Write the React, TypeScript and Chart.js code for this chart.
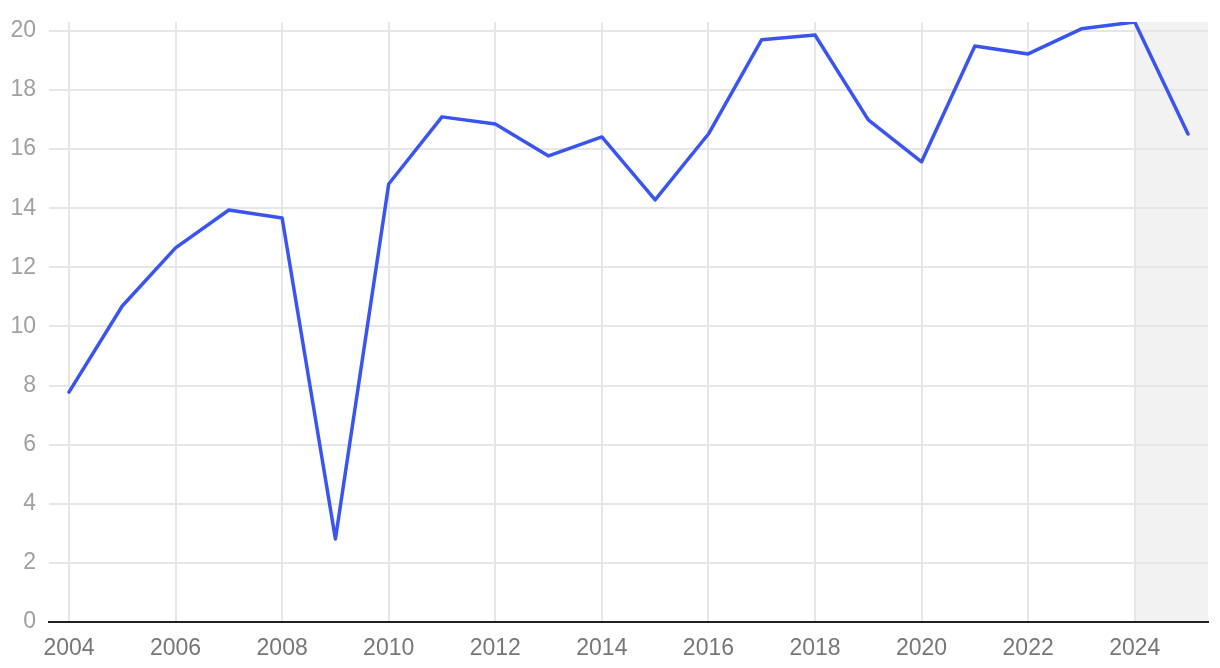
import React, { useEffect, useRef } from "react";
import { Chart, registerables } from "chart.js";

Chart.register(...registerables);

const years = [2004, 2005, 2006, 2007, 2008, 2009, 2010, 2011, 2012, 2013, 2014, 2015, 2016, 2017, 2018, 2019, 2020, 2021, 2022, 2023, 2024, 2025];
const values = [7.78, 10.69, 12.66, 13.94, 13.67, 2.81, 14.82, 17.09, 16.85, 15.77, 16.41, 14.28, 16.51, 19.7, 19.86, 16.99, 15.57, 19.49, 19.22, 20.07, 20.3, 16.51];
const xTickValues = [2004, 2006, 2008, 2010, 2012, 2014, 2016, 2018, 2020, 2022, 2024];
const yTickValues = [0, 2, 4, 6, 8, 10, 12, 14, 16, 18, 20];
const shadeStart = 2024;

const shadePlugin = {
  id: "shade",
  beforeDraw(chart: any) {
    const { ctx, chartArea, scales } = chart;
    const x0 = scales.x.getPixelForValue(shadeStart);
    ctx.save();
    ctx.fillStyle = "#f2f2f2";
    ctx.fillRect(x0, chartArea.top, chartArea.right - x0, chartArea.bottom - chartArea.top);
    ctx.restore();
  },
};

export default function App() {
  const ref = useRef<HTMLCanvasElement>(null);
  useEffect(() => {
    document.body.style.margin = "0";
    const chart = new Chart(ref.current as HTMLCanvasElement, {
      type: "line",
      data: {
        datasets: [
          {
            data: years.map((y, i) => ({ x: y, y: values[i] })),
            borderColor: "#3a54ef",
            borderWidth: 3.5,
            borderJoinStyle: "round",
            borderCapStyle: "round",
            pointRadius: 0,
            tension: 0,
            fill: false,
          },
        ],
      },
      options: {
        animation: false,
        responsive: false,
        layout: { padding: { top: 22, right: 12, left: 0, bottom: 0 } },
        plugins: { legend: { display: false }, tooltip: { enabled: false } },
        scales: {
          x: {
            type: "linear",
            min: 2003.625,
            max: 2025.375,
            afterBuildTicks: (s: any) => {
              s.ticks = xTickValues.map((v) => ({ value: v }));
            },
            afterFit: (s: any) => {
              s.height = 46;
              s.paddingLeft = 0;
              s.paddingRight = 0;
            },
            grid: { color: "#e6e6e6", lineWidth: 2, drawTicks: false },
            border: { color: "#222", width: 2 },
            ticks: {
              color: "#777",
              padding: 13,
              maxRotation: 0,
              autoSkip: false,
              font: { family: "Liberation Sans, Arial, sans-serif", size: 23 },
              callback: (v: any) => String(v),
            },
          },
          y: {
            min: 0,
            max: 20.3,
            afterBuildTicks: (s: any) => {
              s.ticks = yTickValues.map((v) => ({ value: v }));
            },
            afterFit: (s: any) => {
              s.width = 49;
              s.paddingTop = 0;
              s.paddingBottom = 0;
            },
            grid: { color: "#e6e6e6", lineWidth: 2, drawTicks: false },
            border: { display: false },
            ticks: {
              color: "#a0a0a0",
              padding: 13,
              font: { family: "Liberation Sans, Arial, sans-serif", size: 23 },
              callback: (v: any) => String(v),
            },
          },
        },
      },
      plugins: [shadePlugin],
    });
    return () => chart.destroy();
  }, []);
  return (
    <div style={{ width: 1220, height: 668 }}>
      <canvas ref={ref} width={1220} height={668} style={{ display: "block" }} />
    </div>
  );
}
